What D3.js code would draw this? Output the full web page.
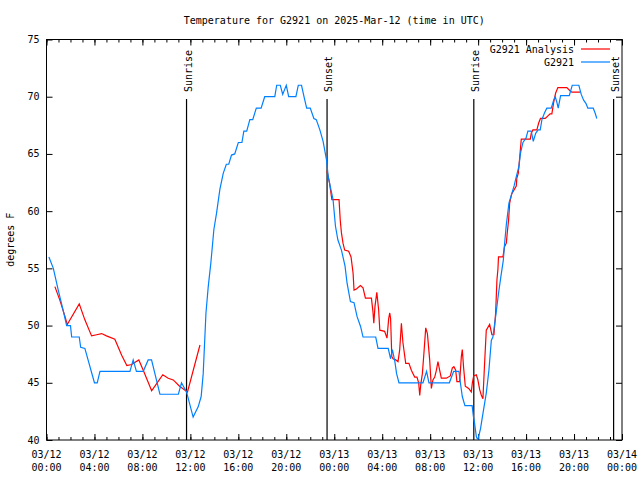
<!DOCTYPE html>
<html><head><meta charset="utf-8">
<script src="https://cdn.jsdelivr.net/npm/d3@7"></script>
<style>
html,body{margin:0;padding:0;background:#fff;}
svg{display:block;}
text{font-family:"DejaVu Sans Mono","Liberation Mono",monospace;font-size:10px;fill:#000;}
</style></head>
<body>
<svg id="chart" width="640" height="480"></svg>
<script>
// ---- data (hours since 2025-03-12 00:00 UTC) ----
const titleText = "Temperature for G2921 on 2025-Mar-12 (time in UTC)";
const yLabel = "degrees F";
const seriesNames = ["G2921 Analysis", "G2921"];
const xTickHours = [0,4,8,12,16,20,24,28,32,36,40,44,48];
const xTickDates = ["03/12","03/12","03/12","03/12","03/12","03/12","03/13","03/13","03/13","03/13","03/13","03/13","03/14"];
const xTickTimes = ["00:00","04:00","08:00","12:00","16:00","20:00","00:00","04:00","08:00","12:00","16:00","20:00","00:00"];
const yTicks = [40,45,50,55,60,65,70,75];
const sunEvents = [
  {name:"Sunrise", hour:11.68},
  {name:"Sunset",  hour:23.40},
  {name:"Sunrise", hour:35.64},
  {name:"Sunset",  hour:47.30}
];

const obsHours = [0.2,0.57,0.98,1.35,1.68,2.0,2.1,2.73,2.85,3.2,4.0,4.23,4.46,6.96,7.23,7.5,8.07,8.48,8.76,9.46,11.0,11.26,11.68,12.23,12.65,12.9,13.07,13.3,13.49,13.71,13.96,14.18,14.46,14.74,15.0,15.2,15.43,15.7,16.0,16.3,16.46,16.7,16.96,17.2,17.5,17.9,18.2,19.04,19.2,19.5,19.7,20.0,20.2,20.8,21.0,21.27,21.5,21.7,22.0,22.3,22.5,22.8,23.07,23.35,23.5,23.6,23.9,24.1,24.3,24.6,24.9,25.07,25.35,25.65,25.9,26.2,26.4,27.46,27.65,28.5,28.7,28.85,29.05,29.2,29.4,31.4,31.7,31.9,33.6,33.96,34.4,34.52,34.68,34.9,35.5,35.6,35.7,35.85,35.98,36.2,36.4,36.68,36.9,37.1,37.23,37.5,37.7,37.9,38.1,38.21,38.35,38.57,38.77,39.0,39.18,39.4,39.54,39.74,40.0,40.15,40.43,40.6,40.8,41.0,41.18,41.32,41.54,41.73,42.1,42.3,42.43,42.57,42.68,42.88,43.6,43.85,44.4,44.6,44.8,45.0,45.15,45.6,45.75,45.9];
const obsTemps = [56.0,55.0,53.1,51.5,50.0,50.0,49.0,49.0,48.1,48.0,45.0,45.0,46.0,46.0,47.0,46.0,46.0,47.0,47.0,44.0,44.0,45.0,44.2,42.0,42.9,43.8,45.8,51.1,53.4,55.5,58.4,59.8,61.9,63.3,64.1,64.1,64.9,65.0,66.0,66.0,67.0,67.0,68.0,68.0,69.0,69.0,70.0,70.0,71.0,71.0,70.2,71.0,70.0,70.0,71.0,71.0,69.9,69.0,69.0,68.1,68.0,67.1,66.1,64.5,63.0,62.5,61.0,58.7,57.5,56.6,55.2,53.7,52.1,52.0,50.8,49.9,49.0,49.0,48.0,48.0,47.1,47.9,46.9,45.8,45.0,45.0,46.0,45.0,45.0,46.0,46.0,45.0,43.8,43.0,43.0,42.1,41.5,40.3,40.0,41.0,42.3,44.1,46.1,48.7,49.0,51.1,52.8,54.3,55.7,57.2,58.8,60.7,61.4,62.2,63.0,63.9,65.1,66.0,66.4,67.0,67.0,66.1,66.8,67.1,67.1,68.0,68.6,69.0,69.0,69.7,70.0,69.5,69.0,70.1,70.1,71.0,71.0,70.2,69.7,69.4,69.0,69.0,68.6,68.1];

// analysis: null marks the gap in the record
const anaHours = [0.7,1.12,1.54,1.73,2.73,3.2,3.76,4.18,4.6,5.0,5.7,6.27,6.7,7.1,7.7,8.07,8.77,9.3,9.7,10.15,10.57,11.1,11.76,12.8,18.0,
  23.4,23.6,23.8,24.4,24.5,24.6,24.73,24.87,25.2,25.4,25.57,25.65,25.85,26.18,26.4,26.6,27.1,27.23,27.3,27.4,27.55,27.7,27.8,28.2,28.4,28.54,28.63,28.7,28.8,28.9,29.13,29.32,29.46,29.6,29.73,29.96,30.23,30.43,30.71,30.9,31.04,31.13,31.21,31.35,31.48,31.63,31.77,31.96,32.1,32.23,32.38,32.52,32.65,32.79,32.93,33.35,33.68,33.85,33.98,34.13,34.23,34.46,34.6,34.68,34.79,34.93,35.21,35.43,35.52,35.63,35.85,35.98,36.13,36.27,36.4,36.54,36.68,36.96,37.15,37.32,37.46,37.57,37.65,37.7,38.07,38.2,38.35,38.43,38.54,38.63,38.8,39.18,39.23,39.35,39.46,39.6,40.35,40.43,40.57,40.9,41.05,41.2,41.6,41.8,42.0,42.15,42.3,42.46,42.65,43.4,43.68,43.82,44.5];
const anaTemps = [53.4,52.2,50.8,50.1,51.9,50.5,49.1,49.2,49.3,49.1,48.8,47.4,46.5,46.6,47.0,46.1,44.3,45.1,45.7,45.4,45.25,44.7,44.2,48.3,null,
  63.5,62.5,61.0,61.0,59.2,58.1,57.2,56.6,56.5,56.0,54.6,53.1,53.2,53.5,53.3,52.4,52.4,51.2,50.2,51.7,52.9,51.4,49.6,49.5,48.9,50.6,51.1,50.6,47.3,47.1,47.0,46.85,47.9,50.2,48.5,46.7,46.7,46.1,45.5,45.5,45.0,43.9,44.8,45.8,47.6,49.8,49.3,47.0,44.5,45.25,45.5,46.1,46.85,46.1,45.4,45.4,45.6,46.3,46.4,46.1,45.1,45.1,47.3,47.9,46.3,44.7,44.5,44.2,45.0,45.6,45.7,45.25,44.4,43.9,43.6,46.7,49.6,50.1,49.2,49.2,51.1,54.0,54.9,56.0,56.0,56.9,57.2,58.1,59.2,60.7,61.5,62.2,62.9,63.3,64.6,66.3,66.3,66.8,67.1,67.1,67.7,68.1,68.1,68.3,68.5,68.5,69.5,70.3,70.8,70.8,70.5,70.4,70.4];

const colors = {analysis:"#ff0000", obs:"#0080ff"};

// ---- layout ----
const plotL = 46.5, plotR = 622, plotT = 39.5, plotB = 440;
const svg = d3.select("#chart");
svg.append("rect").attr("width",640).attr("height",480).attr("fill","#fff");

const x = d3.scaleLinear().domain([0,48]).range([plotL,plotR]);
const y = d3.scaleLinear().domain([40,75]).range([plotB,plotT]);
const minorHours = d3.range(0,49,1);

// ticks (inward), all four sides
function styleAxis(g){ g.select(".domain").remove(); g.selectAll("text").remove(); g.selectAll("line").attr("stroke","#000"); }
svg.append("g").attr("transform",`translate(0,${plotB})`).call(d3.axisBottom(x).tickValues(minorHours).tickSize(-3)).call(styleAxis);
svg.append("g").attr("transform",`translate(0,${plotB})`).call(d3.axisBottom(x).tickValues(xTickHours).tickSize(-6)).call(styleAxis);
svg.append("g").attr("transform",`translate(0,${plotT})`).call(d3.axisTop(x).tickValues(minorHours).tickSize(-3)).call(styleAxis);
svg.append("g").attr("transform",`translate(0,${plotT})`).call(d3.axisTop(x).tickValues(xTickHours).tickSize(-6)).call(styleAxis);
svg.append("g").attr("transform",`translate(${plotL},0)`).call(d3.axisLeft(y).tickValues(yTicks).tickSize(-6)).call(styleAxis);
svg.append("g").attr("transform",`translate(${plotR},0)`).call(d3.axisRight(y).tickValues(yTicks).tickSize(-6)).call(styleAxis);

// tick labels
svg.append("g").selectAll("text").data(yTicks).join("text")
  .attr("x", plotL-7).attr("y", d=>y(d)).attr("dy","0.35em").attr("text-anchor","end").text(d=>d);
const xl = svg.append("g").selectAll("g").data(xTickHours).join("g")
  .attr("transform", d=>`translate(${x(d)},0)`);
xl.append("text").attr("y",458).attr("text-anchor","middle").text((d,i)=>xTickDates[i]);
xl.append("text").attr("y",471).attr("text-anchor","middle").text((d,i)=>xTickTimes[i]);

// border
svg.append("rect").attr("x",plotL).attr("y",plotT).attr("width",plotR-plotL).attr("height",plotB-plotT)
  .attr("fill","none").attr("stroke","#000").attr("stroke-width",1);

// title and y label
svg.append("text").attr("x",(plotL+plotR)/2).attr("y",24).attr("text-anchor","middle").text(titleText);
svg.append("text").attr("transform",`translate(14,${(plotT+plotB)/2}) rotate(-90)`).attr("text-anchor","middle").text(yLabel);

// sunrise/sunset
const sun = svg.append("g").selectAll("g").data(sunEvents).join("g");
sun.append("line").attr("x1",d=>x(d.hour)).attr("x2",d=>x(d.hour)).attr("y1",99).attr("y2",plotB)
  .attr("stroke","#000").attr("stroke-width",1.2);
sun.append("text").attr("transform",d=>`translate(${x(d.hour)+5},92) rotate(-90)`).attr("text-anchor","start").text(d=>d.name);

// series
const line = d3.line().defined(d=>d[1]!==null).x(d=>x(d[0])).y(d=>y(d[1]));
const anaData = anaHours.map((h,i)=>[h,anaTemps[i]]);
const obsData = obsHours.map((h,i)=>[h,obsTemps[i]]);
svg.append("defs").append("clipPath").attr("id","clip").append("rect")
  .attr("x",plotL).attr("y",plotT).attr("width",plotR-plotL).attr("height",plotB-plotT);
svg.append("path").datum(anaData).attr("d",line).attr("fill","none").attr("stroke",colors.analysis).attr("stroke-width",1.2).attr("clip-path","url(#clip)");
svg.append("path").datum(obsData).attr("d",line).attr("fill","none").attr("stroke",colors.obs).attr("stroke-width",1.2).attr("clip-path","url(#clip)");

// legend
const legend = svg.append("g");
const legItems = [{name:seriesNames[0], color:colors.analysis},{name:seriesNames[1], color:colors.obs}];
legItems.forEach((d,i)=>{
  const ly = 49 + i*13;
  legend.append("text").attr("x",574).attr("y",ly).attr("dy","0.35em").attr("text-anchor","end").text(d.name);
  legend.append("line").attr("x1",581).attr("x2",610).attr("y1",ly).attr("y2",ly).attr("stroke",d.color).attr("stroke-width",1.2);
});
</script>
</body></html>
